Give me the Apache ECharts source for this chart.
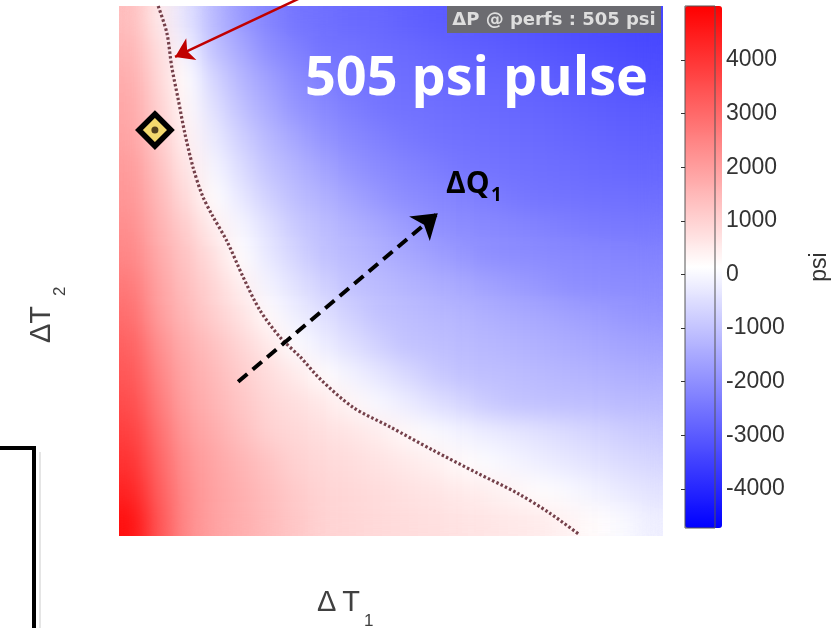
<!DOCTYPE html>
<html>
<head>
<meta charset="utf-8">
<script src="https://cdn.jsdelivr.net/npm/echarts@6/dist/echarts.min.js"></script>
<style>
  html, body { margin: 0; padding: 0; background: #fff; }
  #main { position: relative; width: 832px; height: 628px; }
  #heatWrap { position: absolute; left: 119px; top: 6px; width: 544px; height: 530px; overflow: hidden; }
  #heat { width: 544px; height: 530px; filter: url(#smooth); }
  #top { position: absolute; left: 0; top: 0; width: 832px; height: 628px; }
</style>
</head>
<body>
<svg width="0" height="0" style="position:absolute">
  <filter id="smooth" x="0" y="0" width="100%" height="100%" color-interpolation-filters="sRGB">
    <feGaussianBlur stdDeviation="11"/>
    <feComponentTransfer><feFuncA type="linear" slope="40" intercept="0"/></feComponentTransfer>
  </filter>
</svg>
<div id="main">
  <div id="heatWrap"><div id="heat"></div></div>
  <div id="top"></div>
</div>
<script>
var heatChart = echarts.init(document.getElementById('heat'));
var chart = echarts.init(document.getElementById('top'));

// ΔP @ perfs (psi), rows from top (high ΔT2) to bottom, columns left (low ΔT1) to right
var dpRows = [
  [1400,500,-400,-1200,-1800,-2200,-2500,-2600,-2700,-2750,-2850,-2950,-3020,-3080,-3130,-3190,-3250,-3310,-3360,-3420],
  [1550,750,-70,-1040,-1520,-2010,-2270,-2510,-2540,-2640,-2710,-2780,-2850,-2920,-2990,-3050,-3120,-3180,-3250,-3320],
  [1700,870,140,-670,-1250,-1680,-2050,-2280,-2500,-2560,-2620,-2680,-2740,-2800,-2850,-2910,-2970,-3050,-3130,-3200],
  [1800,1000,250,-430,-1040,-1460,-1870,-2120,-2300,-2480,-2550,-2600,-2650,-2700,-2760,-2810,-2860,-2910,-2970,-3020],
  [1900,1140,400,-240,-780,-1220,-1560,-1910,-2110,-2260,-2420,-2520,-2570,-2610,-2660,-2710,-2760,-2800,-2850,-2900],
  [2050,1310,590,-40,-520,-1010,-1300,-1600,-1890,-2080,-2200,-2330,-2450,-2520,-2570,-2610,-2650,-2700,-2740,-2780],
  [2150,1450,800,160,-300,-750,-1100,-1350,-1590,-1840,-2040,-2140,-2240,-2330,-2440,-2510,-2530,-2570,-2600,-2630],
  [2300,1600,1060,430,-40,-460,-870,-1130,-1330,-1530,-1740,-1940,-2050,-2120,-2180,-2250,-2320,-2390,-2420,-2440],
  [2450,1750,1240,720,150,-290,-670,-1020,-1180,-1340,-1500,-1660,-1820,-1980,-2030,-2070,-2110,-2150,-2190,-2230],
  [2700,1880,1360,900,420,-80,-410,-730,-1020,-1140,-1270,-1390,-1510,-1630,-1750,-1870,-1990,-2030,-2060,-2080],
  [2900,2000,1490,1060,680,210,-170,-450,-740,-1010,-1100,-1190,-1280,-1370,-1460,-1550,-1640,-1730,-1820,-1910],
  [3150,2250,1690,1300,920,550,100,-200,-470,-730,-1000,-1070,-1150,-1220,-1290,-1370,-1440,-1520,-1590,-1660],
  [3350,2450,1800,1450,1090,790,530,200,-90,-340,-590,-840,-1020,-1080,-1130,-1190,-1250,-1310,-1360,-1420],
  [3550,2650,1910,1560,1220,930,750,570,310,10,-210,-430,-640,-850,-1010,-1050,-1080,-1110,-1150,-1180],
  [3800,2850,2070,1700,1360,1010,880,750,630,490,270,60,-80,-200,-310,-430,-540,-660,-780,-900],
  [4050,3050,2230,1840,1550,1270,1000,890,780,670,560,430,260,90,-60,-180,-290,-410,-530,-640],
  [4350,3200,2320,1900,1640,1380,1130,960,880,800,720,640,550,450,310,170,40,-110,-250,-400],
  [4700,3350,2360,1920,1690,1440,1210,990,930,870,810,750,690,640,580,520,370,210,50,-160]
];

// 505 psi contour (ΔT1, ΔT2 in % of axis range)
var contourT1 = [7.2, 8.8, 9.7, 10.9, 12.1, 13.6, 15.3, 17.1, 19.9, 22.8, 25.9, 29.6, 33.3, 37.0, 43.0, 49.8, 57.7, 65.8, 73.2, 79.2, 84.7];
var contourT2 = [100, 94.9, 88.5, 82.3, 76.0, 69.6, 64.3, 60.6, 55.5, 48.9, 42.6, 37.5, 33.8, 29.6, 24.3, 20.6, 16.2, 11.9, 8.1, 4.3, 0.2];

// operating point (diamond)
var opPoint = [6.6, 76.6];
// ΔQ1 direction arrow and pointer arrow
var dqArrow = [[21.9, 29.1], [58.6, 60.9]];
var redArrow = [[33.3, 101.5], [10.3, 90.4]];

// colorbar
var cbMin = -4730, cbMax = 5010;
var cbTicks = [-4000, -3000, -2000, -1000, 0, 1000, 2000, 3000, 4000];
var cbColors = ['#0000ff', '#ffffff', '#ff0000'];

var cols = dpRows[0].map(function (v, i) { return i; });
var rows = dpRows.map(function (r, j) { return j; });
var heat = [];
dpRows.forEach(function (r, j) {
  r.forEach(function (v, i) { heat.push([i, j, v]); });
});
var contour = contourT1.map(function (x, i) { return [x, contourT2[i]]; });

var hidden = { axisLine: { show: false }, axisTick: { show: false }, axisLabel: { show: false }, splitLine: { show: false } };

/*-- 底层：色块 --*/
heatChart.setOption({
  animation: false,
  grid: { left: 0, top: 0, right: 0, bottom: 0 },
  xAxis: Object.assign({ type: 'category', data: cols }, hidden),
  yAxis: Object.assign({ type: 'category', data: rows, inverse: true }, hidden),
  visualMap: { type: 'continuous', min: cbMin, max: cbMax, show: false, inRange: { color: cbColors } },
  series: [{ type: 'heatmap', data: heat, progressive: 0, emphasis: { disabled: true } }]
});

/*-- 上层：等值线、标注、色标 --*/
var plot = { left: 119, top: 6, width: 544, height: 530 };
var tickText = { fontSize: 23, color: '#333', fontFamily: 'Liberation Sans' };

chart.setOption({
  animation: false,
  grid: [
    { left: plot.left, top: plot.top, width: plot.width, height: plot.height },
    { left: 685, top: 6, width: 37, height: 522, show: true, borderColor: '#555', borderWidth: 1, backgroundColor: 'transparent', z: 5 }
  ],
  xAxis: [
    Object.assign({ type: 'value', gridIndex: 0, min: 0, max: 100 }, hidden),
    Object.assign({ type: 'value', gridIndex: 1, min: 0, max: 1, show: false }, hidden)
  ],
  yAxis: [
    Object.assign({ type: 'value', gridIndex: 0, min: 0, max: 100 }, hidden),
    {
      type: 'value', gridIndex: 1, min: cbMin, max: cbMax, position: 'right', z: 10,
      axisLine: { show: false },
      splitLine: { show: false },
      axisTick: { show: true, inside: true, length: 4, lineStyle: { color: '#333' }, customValues: cbTicks },
      axisLabel: Object.assign({ customValues: cbTicks, margin: 11, formatter: function (v) { return String(v); } }, tickText),
      name: 'psi', nameLocation: 'middle', nameGap: 93, nameRotate: 90,
      nameTextStyle: tickText
    }
  ],
  visualMap: {
    type: 'continuous', min: cbMin, max: cbMax, seriesIndex: [],
    calculable: false, hoverLink: false, orient: 'vertical',
    left: 685, top: 6, itemWidth: 37, itemHeight: 522, padding: 0, text: null,
    inRange: { color: cbColors }
  },
  series: [
    {
      type: 'line', xAxisIndex: 0, yAxisIndex: 0, data: contour,
      showSymbol: false, smooth: 0.3, silent: true, z: 3,
      lineStyle: { color: '#74404a', width: 3.2, type: [2.5, 2.2] }
    },
    {
      type: 'lines', coordinateSystem: 'cartesian2d', xAxisIndex: 0, yAxisIndex: 0,
      data: [{ coords: dqArrow }], symbol: ['none', 'arrow'], symbolSize: 24, silent: true, z: 4,
      lineStyle: { color: '#000', width: 4, type: [12, 7], opacity: 1 }
    },
    {
      type: 'lines', coordinateSystem: 'cartesian2d', xAxisIndex: 0, yAxisIndex: 0, clip: false,
      data: [{ coords: redArrow }], symbol: ['none', 'arrow'], symbolSize: 18, silent: true, z: 4,
      lineStyle: { color: '#c00000', width: 2.5, opacity: 1 }
    },
    {
      type: 'scatter', xAxisIndex: 0, yAxisIndex: 0, data: [opPoint], silent: true, z: 5,
      symbol: 'diamond', symbolSize: 32,
      itemStyle: { color: '#f4d96e', borderColor: '#000', borderWidth: 5.5, opacity: 1 }
    },
    {
      type: 'scatter', xAxisIndex: 0, yAxisIndex: 0, data: [opPoint], silent: true, z: 6,
      symbol: 'circle', symbolSize: 7, itemStyle: { color: '#2a1a0a' }
    }
  ],
  graphic: [
    { type: 'rect', shape: { x: 447, y: 6, width: 214, height: 27 }, style: { fill: '#6b6b70' }, z: 20 },
    { type: 'text', x: 554, y: 20, z: 21, style: { text: 'ΔP @ perfs : 505 psi', font: 'bold 18px "DejaVu Sans"', fill: '#dedede', align: 'center', verticalAlign: 'middle' } },
    { type: 'text', x: 648, y: 80, z: 21, style: { text: '505 psi pulse', font: 'bold 54px "Open Sans"', fill: '#fff', align: 'right', verticalAlign: 'middle' } },
    { type: 'text', x: 446, y: 184, z: 21, style: { text: 'ΔQ', font: 'bold 30px "Open Sans"', fill: '#000', align: 'left', verticalAlign: 'middle' } },
    { type: 'text', x: 491, y: 196, z: 21, style: { text: '1', font: 'bold 19px "Open Sans"', fill: '#000', align: 'left', verticalAlign: 'middle' } },
    { type: 'text', x: 317, y: 603, z: 21, style: { text: 'Δ\u2009T', font: '29px "Liberation Sans"', fill: '#404040', align: 'left', verticalAlign: 'middle' } },
    { type: 'text', x: 364, y: 621, z: 21, style: { text: '1', font: '17px "Liberation Sans"', fill: '#404040', align: 'left', verticalAlign: 'middle' } },
    { type: 'text', x: 42, y: 343, rotation: Math.PI / 2, z: 21, style: { text: 'ΔT', font: '29px "Liberation Sans"', fill: '#404040', align: 'left', verticalAlign: 'middle' } },
    { type: 'text', x: 60, y: 296, rotation: Math.PI / 2, z: 21, style: { text: '2', font: '17px "Liberation Sans"', fill: '#404040', align: 'left', verticalAlign: 'middle' } },
    { type: 'polyline', shape: { points: [[0, 448], [34, 448], [34, 628]] }, style: { stroke: '#000', lineWidth: 4, fill: null }, z: 21 },
    { type: 'line', shape: { x1: 40, y1: 452, x2: 40, y2: 628 }, style: { stroke: '#ddd', lineWidth: 1.5 }, z: 21 }
  ]
});
</script>
</body>
</html>
